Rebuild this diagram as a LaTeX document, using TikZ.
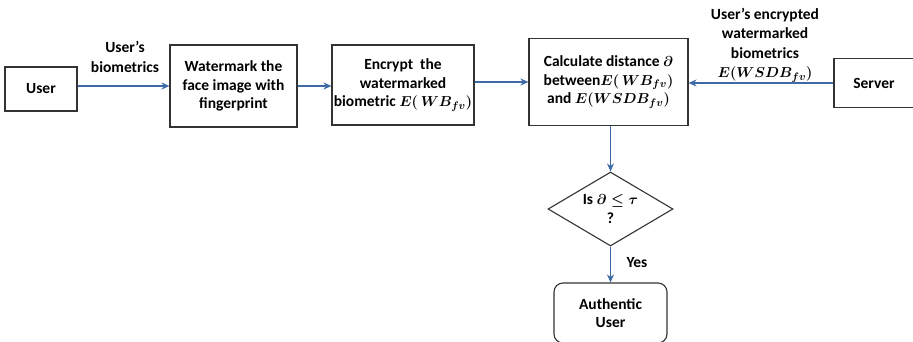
\documentclass[tikz,border=0pt]{standalone}
\usepackage{fontspec}
\setmainfont{Carlito}
\usepackage{amsmath}
\usetikzlibrary{shapes.geometric,arrows.meta}
\definecolor{arrowblue}{HTML}{3E6AA6}
\definecolor{boxline}{HTML}{333333}
\tikzset{
  stepbox/.style={draw=boxline, line width=1.1pt, align=center, font=\bfseries\fontsize{15.5}{18.5}\selectfont, inner sep=0pt},
  lbl/.style={align=center, font=\bfseries\fontsize{15.5}{19.5}\selectfont, inner sep=0pt},
  flow/.style={draw=arrowblue, line width=1.1pt, -{Stealth[length=8pt,width=7pt]}}
}
\begin{document}
\begin{tikzpicture}[x=1pt,y=-1pt]
\useasboundingbox (0,0) rectangle (913,342);
\boldmath
\node[stepbox, minimum width=72pt, minimum height=44pt] (user) at (41,89) {User};
\node[stepbox, minimum width=127pt, minimum height=82pt] (wm) at (233.5,86) {Watermark the\\face image with\\fingerprint};
\node[stepbox, minimum width=142pt, minimum height=80pt] (enc) at (403,85) {Encrypt\ \ the\\watermarked\\biometric $E(\,WB_{fv})$};
\node[stepbox, minimum width=159pt, minimum height=87pt] (calc) at (608.5,82) {Calculate distance $\partial$\\between$E(\,WB_{fv})$\\and $E(WSDB_{fv})$};
\node[stepbox, minimum width=80pt, minimum height=49pt] (server) at (874,83) {Server};
\node[stepbox, diamond, aspect=1.68, minimum width=125pt, minimum height=74pt] (dec) at (610.5,209) {Is $\partial \leq \tau$\\?};
\node[stepbox, rounded corners=9pt, minimum width=113pt, minimum height=60pt] (auth) at (610.5,313) {Authentic\\User};
\node[lbl] (l1) at (125,57) {User's\\biometrics};
\node[lbl] (l2) at (765,45) {User's encrypted\\watermarked\\biometrics\\$E(WSDB_{fv})$};
\node[lbl] (l3) at (637,263) {Yes};
\draw[flow] (user.east |- 0,86) -- (wm.west |- 0,86);
\draw[flow] (wm.east |- 0,86) -- (enc.west |- 0,86);
\draw[flow] (enc.east |- 0,82) -- (calc.west |- 0,82);
\draw[flow] (server.west |- 0,83) -- (calc.east |- 0,83);
\draw[flow] (calc.south -| dec.north) -- (dec.north);
\draw[flow] (dec.south) -- (auth.north);
\end{tikzpicture}
\end{document}
